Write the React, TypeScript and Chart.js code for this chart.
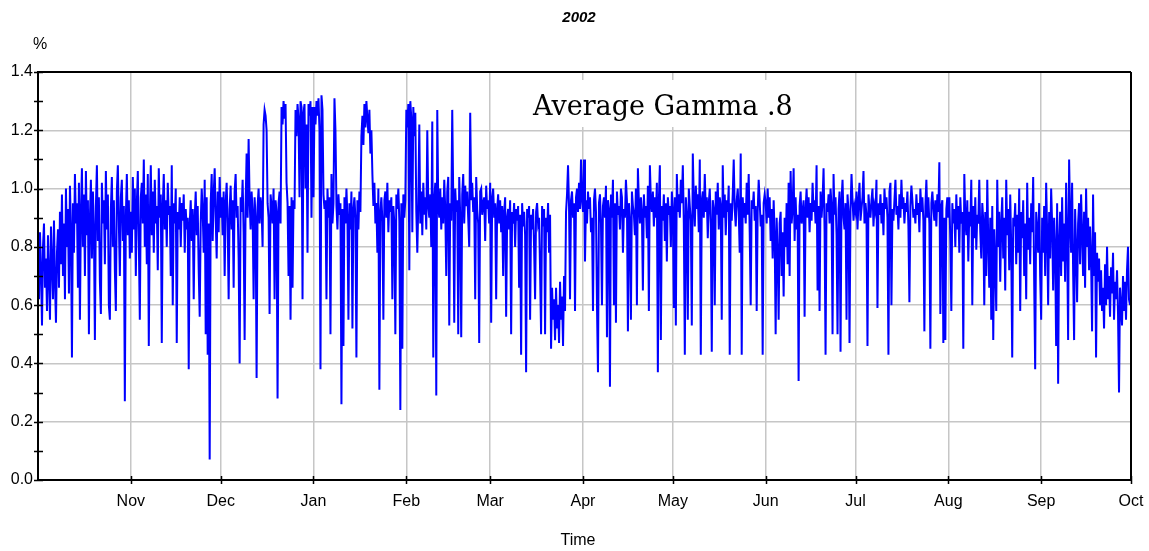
import React, { useEffect, useRef } from "react";
import { Chart, registerables } from "chart.js";

Chart.register(...registerables);

// Day offsets from 1 Oct 2001 of each month start (x axis = days)
const MONTH_STARTS = [0, 31, 61, 92, 123, 151, 182, 212, 243, 273, 304, 335];
const MONTH_TICKS = [31, 61, 92, 123, 151, 182, 212, 243, 273, 304, 335, 365];
const MONTH_LABELS = ["Nov", "Dec", "Jan", "Feb", "Mar", "Apr", "May", "Jun", "Jul", "Aug", "Sep", "Oct"];
const Y_TICKS = [0, 0.2, 0.4, 0.6, 0.8, 1.0, 1.2, 1.4];
const SAMPLES_PER_DAY = 3;

const TITLE = "2002";
const Y_UNIT = "%";
const X_TITLE = "Time";
const NOTE = "Average Gamma .8";

// Values, 3 samples per day
const oct01 = [
  0.78, 0.62, 0.85, 0.72, 0.53, 0.80, 0.88, 0.66, 0.76, 0.58, 0.84, 0.70,
  0.55, 0.87, 0.74, 0.62, 0.89, 0.68, 0.54, 0.78, 0.86, 0.66, 0.92, 0.74,
  0.98, 0.70, 0.88, 0.62, 1.00, 0.80, 0.93, 0.64, 1.01, 0.86, 0.42, 0.95,
  0.78, 1.05, 0.88, 0.95, 0.66, 1.02, 0.55, 0.92, 1.07, 0.80, 0.98, 0.70,
  1.06, 0.84, 0.96, 0.50, 0.90, 1.03, 0.76, 0.99, 0.86, 0.48, 0.94, 1.08,
  0.82, 0.97, 0.68, 0.57, 1.02, 0.88, 0.96, 0.74, 1.06, 0.86, 0.98, 0.60,
  0.55, 0.93, 1.04, 0.80, 0.96, 0.72, 0.58, 0.99, 1.08, 0.88, 0.70, 0.97,
  1.03, 0.82, 0.94, 0.27, 0.90, 1.05, 0.84, 0.96, 0.76,
];
const nov01 = [
  0.92, 0.78, 1.04, 0.86, 1.00, 0.70, 0.95, 1.06, 0.82, 0.55, 0.97, 1.02,
  0.88, 1.10, 0.80, 0.98, 0.74, 1.05, 0.46, 0.90, 1.08, 0.84, 0.99, 0.78,
  1.03, 0.88, 0.94, 0.72, 1.07, 0.90, 0.98, 0.47, 0.94, 1.05, 0.86, 0.96,
  0.80, 1.02, 0.91, 0.94, 0.70, 1.08, 0.60, 0.95, 0.88, 1.00, 0.47, 0.92,
  0.86, 0.97, 0.80, 0.95, 0.89, 0.98, 0.78, 0.93, 0.86, 0.90, 0.38, 0.88,
  0.96, 0.82, 0.93, 0.62, 0.90, 0.99, 0.84, 0.94, 0.72, 0.56, 0.88, 1.00,
  0.92, 0.78, 1.03, 0.50, 0.97, 0.43, 0.88, 0.07, 0.95, 1.05, 0.82, 0.98,
  1.07, 0.90, 0.76, 0.99, 0.85, 1.04,
];
const dec01 = [
  0.90, 0.97, 0.84, 0.99, 0.70, 0.95, 1.02, 0.88, 0.62, 0.93, 1.01, 0.86,
  0.96, 0.66, 0.99, 1.05, 0.90, 0.94, 0.76, 0.40, 0.97, 0.92, 1.03, 0.85,
  0.48, 0.95, 1.12, 0.90, 1.17, 0.96, 0.86, 0.99, 0.92, 0.62, 0.97, 0.90,
  0.35, 0.94, 1.00, 0.88, 0.97, 0.93, 0.80, 1.22, 1.27, 1.25, 1.20, 0.95,
  0.90, 0.57, 0.98, 0.94, 0.88, 1.00, 0.62, 0.96, 0.92, 0.28, 0.95, 0.99,
  0.88, 1.28, 1.22, 1.30, 1.24, 1.29, 1.02, 0.95, 0.70, 0.94, 0.55, 0.97,
  0.66, 0.96, 0.93, 1.27, 1.18, 1.29, 1.24, 0.97, 1.30, 1.28, 0.62, 1.26,
  1.29, 1.00, 1.22, 0.78, 1.29, 1.25, 1.30, 0.90, 1.28,
];
const jan02 = [
  0.97, 1.28, 1.22, 1.30, 1.25, 1.31, 1.20, 0.38, 1.32, 1.27, 0.98, 0.93,
  0.96, 0.62, 1.00, 0.90, 0.97, 0.50, 1.05, 0.88, 0.95, 1.31, 1.20, 0.94,
  0.86, 0.98, 0.91, 0.95, 0.26, 0.93, 0.46, 0.97, 0.88, 1.00, 0.90, 0.55,
  0.95, 0.86, 0.99, 0.52, 0.93, 0.97, 0.90, 0.42, 0.96, 0.86, 0.99, 0.92,
  1.18, 1.25, 1.15, 1.29, 1.21, 1.30, 1.24, 1.19, 1.27, 1.12, 1.20, 1.05,
  0.94, 1.02, 0.88, 0.95, 0.78, 1.00, 0.31, 0.92, 0.97, 0.89, 0.55, 0.96,
  0.99, 0.90, 1.02, 0.85, 0.96, 0.92, 0.97, 0.62, 0.94, 0.88, 0.50, 0.98,
  0.93, 1.00, 0.89, 0.24, 0.95, 0.45, 0.98, 0.90, 0.96,
];
const feb02 = [
  1.27, 1.21, 1.29, 0.72, 1.30, 1.24, 0.85, 1.28, 1.18, 1.26, 0.92, 0.78,
  0.95, 1.22, 0.88, 0.99, 0.84, 1.02, 0.91, 0.97, 0.86, 1.20, 0.94, 0.90,
  0.98, 0.80, 1.23, 0.42, 0.96, 1.02, 0.29, 1.27, 0.94, 0.90, 1.00, 0.86,
  0.97, 0.88, 1.03, 0.93, 0.70, 0.99, 1.04, 0.53, 0.95, 0.89, 1.27, 0.97,
  0.54, 1.00, 0.92, 0.96, 0.50, 1.04, 0.90, 0.49, 0.98, 1.05, 0.88, 1.01,
  0.94, 0.99, 0.90, 0.80, 1.26, 0.96, 1.02, 0.92, 0.97, 0.62, 1.04, 0.93,
  0.88, 0.47, 0.99, 1.00, 0.91, 0.95, 0.97, 0.82, 1.01, 0.93, 0.96, 0.88,
];
const mar02 = [
  1.02, 0.54, 0.97, 1.00, 0.90, 0.95, 0.62, 0.93, 0.98, 0.88, 0.96, 0.85,
  0.94, 0.70, 0.92, 0.97, 0.56, 0.90, 0.93, 0.86, 0.96, 0.50, 0.92, 0.88,
  0.95, 0.80, 0.93, 0.89, 0.94, 0.66, 0.91, 0.43, 0.95, 0.87, 0.92, 0.84,
  0.37, 0.93, 0.90, 0.94, 0.55, 0.91, 0.86, 0.93, 0.80, 0.62, 0.92, 0.95,
  0.88, 0.90, 0.72, 0.50, 0.94, 0.87, 0.93, 0.50, 0.90, 0.85, 0.95, 0.78,
  0.91, 0.45, 0.66, 0.55, 0.62, 0.48, 0.66, 0.52, 0.60, 0.47, 0.68, 0.55,
  0.63, 0.46, 0.70, 0.58, 0.92, 0.98, 1.08, 0.94, 0.62, 0.96, 0.99, 0.90,
  0.95, 0.58, 0.97, 1.00, 0.92, 1.02, 0.93, 1.10, 0.96,
];
const apr02 = [
  0.92, 1.10, 0.75, 0.96, 0.88, 0.99, 0.93, 0.97, 0.85, 0.90, 0.58, 0.96,
  1.00, 0.92, 0.60, 0.37, 0.95, 0.98, 0.88, 0.60, 0.94, 0.97, 0.90, 1.01,
  0.49, 0.96, 0.93, 0.32, 0.98, 0.90, 1.03, 0.60, 0.95, 0.54, 0.99, 0.91,
  0.94, 0.86, 1.00, 0.97, 0.78, 0.93, 0.90, 1.03, 0.96, 0.51, 0.95, 0.89,
  0.55, 0.99, 0.94, 0.91, 0.84, 1.00, 0.60, 1.07, 0.95, 0.88, 0.97, 0.92,
  0.65, 0.98, 0.90, 0.94, 0.83, 1.01, 0.58, 1.08, 0.96, 0.92, 0.99, 0.87,
  0.97, 0.90, 1.02, 0.37, 0.96, 1.08, 0.48, 0.94, 0.89, 0.98, 0.82, 0.95,
  0.75, 0.97, 0.91, 0.94, 0.80, 0.99,
];
const may02 = [
  0.93, 0.59, 0.97, 0.53, 1.05, 0.92, 0.98, 0.90, 1.03, 0.95, 1.08, 0.88,
  0.43, 0.97, 0.91, 0.55, 1.00, 0.94, 0.89, 0.53, 1.12, 0.96, 0.87, 1.01,
  0.93, 0.98, 0.85, 1.10, 0.43, 0.96, 0.99, 0.90, 1.05, 0.92, 0.97, 0.83,
  0.95, 1.00, 0.88, 0.44, 0.96, 0.93, 0.60, 0.99, 0.91, 1.02, 0.86, 0.97,
  0.94, 0.55, 1.08, 0.90, 0.98, 0.84, 0.96, 0.92, 1.01, 0.43, 0.95, 0.89,
  0.98, 1.10, 0.93, 0.87, 0.96, 1.00, 0.92, 0.78, 1.12, 0.43, 0.97, 0.90,
  0.95, 0.88, 1.02, 0.91, 1.05, 0.85, 0.60, 0.96, 0.93, 0.99, 0.89, 0.94,
  0.58, 0.92, 1.03, 0.96, 0.87, 0.91, 0.43, 0.95, 0.98,
];
const jun02 = [
  0.95, 0.88, 1.00, 0.90, 0.97, 0.82, 0.93, 0.76, 0.96, 0.84, 0.50, 0.90,
  0.78, 0.55, 0.88, 0.92, 0.70, 0.85, 0.63, 0.90, 0.80, 0.95, 0.74, 1.02,
  0.70, 1.06, 0.88, 0.93, 1.07, 0.82, 0.97, 0.86, 0.91, 0.34, 0.94, 0.99,
  0.88, 0.92, 0.96, 0.56, 0.93, 1.00, 0.90, 0.97, 0.85, 0.95, 0.89, 1.02,
  0.92, 0.96, 0.88, 1.08, 0.65, 0.94, 0.58, 0.99, 0.90, 0.96, 1.07, 0.86,
  0.43, 0.95, 0.92, 0.98, 0.88, 1.00, 0.94, 0.50, 1.05, 0.91, 0.97, 0.84,
  0.50, 0.93, 0.99, 0.44, 0.96, 1.03, 0.90, 0.86, 0.95, 0.55, 0.98, 0.92,
  0.47, 0.93, 1.05, 0.96, 0.89, 0.94,
];
const jul02 = [
  0.92, 0.99, 0.86, 0.96, 1.02, 0.89, 0.93, 0.97, 1.06, 0.88, 0.95, 0.91,
  0.46, 0.98, 0.93, 0.90, 0.96, 1.00, 0.87, 0.94, 0.92, 1.03, 0.59, 0.95,
  0.91, 0.98, 0.88, 0.95, 0.84, 1.00, 0.93, 0.97, 0.90, 0.43, 0.99, 1.02,
  0.60, 0.93, 0.89, 0.96, 1.03, 0.91, 0.94, 0.86, 0.98, 0.90, 1.03, 0.93,
  0.97, 0.88, 0.95, 0.92, 0.99, 0.87, 0.61, 0.94, 1.01, 0.96, 0.90, 0.93,
  0.88, 0.98, 0.91, 0.95, 0.85, 1.00, 0.92, 0.97, 0.89, 0.51, 0.94, 1.03,
  0.90, 0.97, 0.88, 0.45, 0.95, 0.99, 0.93, 0.89, 0.96, 0.87, 0.98, 0.92,
  1.09, 0.57, 0.94, 0.96, 0.47, 0.90, 0.48, 0.93, 0.97,
];
const aug02 = [
  0.90, 0.97, 0.82, 0.58, 0.95, 0.88, 0.93, 0.80, 0.98, 0.86, 0.94, 0.78,
  0.97, 0.88, 0.92, 0.45, 1.05, 0.90, 0.84, 0.96, 0.75, 0.92, 0.87, 1.03,
  0.60, 0.94, 0.83, 0.97, 0.79, 0.91, 0.88, 1.03, 0.85, 0.76, 0.95, 0.89,
  0.60, 0.92, 0.70, 1.03, 0.82, 0.66, 0.90, 0.55, 0.94, 0.48, 0.86, 0.74,
  0.58, 1.03, 0.80, 0.92, 0.68, 0.88, 0.97, 0.76, 0.90, 0.65, 1.03, 0.84,
  0.93, 0.72, 0.98, 0.80, 0.42, 0.90, 0.87, 0.95, 0.74, 0.91, 0.78, 1.00,
  0.58, 0.92, 0.83, 0.96, 0.70, 0.88, 0.62, 1.02, 0.79, 0.90, 0.74, 0.95,
  0.85, 1.04, 0.68, 0.38, 0.92, 0.86, 0.78, 0.95, 0.70,
];
const sep02 = [
  0.55, 0.90, 0.78, 0.94, 0.70, 1.02, 0.85, 0.60, 0.92, 0.76, 1.00, 0.88,
  0.65, 0.90, 0.80, 0.46, 0.95, 0.33, 0.82, 0.92, 0.70, 0.97, 0.75, 0.88,
  0.68, 1.02, 0.84, 0.48, 1.10, 0.90, 0.78, 1.02, 0.72, 0.48, 0.93, 0.80,
  0.61, 0.88, 0.95, 0.74, 0.98, 0.85, 0.70, 0.92, 0.66, 1.00, 0.80, 0.90,
  0.72, 0.87, 0.76, 0.51, 0.98, 0.70, 0.85, 0.42, 0.78, 0.68, 0.76, 0.60,
  0.72, 0.58, 0.66, 0.52, 0.74, 0.60, 0.80, 0.62, 0.70, 0.56, 0.73, 0.64,
  0.78, 0.55, 0.68, 0.62, 0.72, 0.57, 0.30, 0.66, 0.60, 0.53, 0.70, 0.58,
  0.68, 0.55, 0.72, 0.80, 0.62, 0.60,
];

const MONTH_SERIES = [oct01, nov01, dec01, jan02, feb02, mar02, apr02, may02, jun02, jul02, aug02, sep02];

const FONT = "'Liberation Sans', Arial, Helvetica, sans-serif";

function buildPoints() {
  const pts: { x: number; y: number }[] = [];
  MONTH_SERIES.forEach((arr, m) => {
    arr.forEach((v, i) => pts.push({ x: MONTH_STARTS[m] + i / SAMPLES_PER_DAY, y: v }));
  });
  return pts;
}

const framePlugin = {
  id: "framePlugin",
  beforeDatasetsDraw(chart: any) {
    const { ctx } = chart;
    ctx.save();
    ctx.fillStyle = "#ffffff";
    ctx.fillRect(527, 80, 275, 47);
    ctx.fillStyle = "#000000";
    ctx.font = "27px 'DejaVu Serif', serif";
    ctx.textAlign = "left";
    ctx.textBaseline = "alphabetic";
    ctx.fillText(NOTE, 533, 115);
    ctx.restore();
  },
  afterDraw(chart: any) {
    const { ctx, chartArea } = chart;
    const { left, right, top, bottom } = chartArea;
    const yS = chart.scales.y;
    const xS = chart.scales.x;
    ctx.save();
    ctx.strokeStyle = "#000000";
    ctx.lineWidth = 2;
    ctx.beginPath();
    ctx.moveTo(left, top);
    ctx.lineTo(right, top);
    ctx.moveTo(right, top);
    ctx.lineTo(right, bottom);
    ctx.moveTo(left, top - 1);
    ctx.lineTo(left, bottom + 1);
    ctx.moveTo(left - 1, bottom);
    ctx.lineTo(right + 1, bottom);
    ctx.stroke();
    // y ticks (major + minor) and x ticks
    ctx.lineWidth = 1.5;
    ctx.beginPath();
    for (let i = 0; i <= 14; i++) {
      const py = Math.round(yS.getPixelForValue(i / 10)) + 0.5;
      ctx.moveTo(left - 4, py);
      ctx.lineTo(left + 5, py);
    }
    MONTH_TICKS.forEach((t) => {
      const px = Math.round(xS.getPixelForValue(t)) + 0.5;
      ctx.moveTo(px, bottom - 4);
      ctx.lineTo(px, bottom + 4);
    });
    ctx.stroke();
    // texts
    ctx.fillStyle = "#000000";
    ctx.textAlign = "center";
    ctx.textBaseline = "middle";
    ctx.font = `italic bold 15px ${FONT}`;
    ctx.fillText(TITLE, 579, 18);
    ctx.font = `16px ${FONT}`;
    ctx.fillText(Y_UNIT, 40, 45);
    ctx.fillText(X_TITLE, 578, 541);
    ctx.restore();
  },
};

export default function App() {
  const canvasRef = useRef<HTMLCanvasElement | null>(null);

  useEffect(() => {
    if (!canvasRef.current) return;
    const chart = new Chart(canvasRef.current, {
      type: "line",
      data: {
        datasets: [
          {
            data: buildPoints(),
            borderColor: "#0000ff",
            borderWidth: 2,
            pointRadius: 0,
            tension: 0,
            fill: false,
          },
        ],
      },
      options: {
        animation: false,
        responsive: false,
        devicePixelRatio: 1,
        parsing: false,
        layout: { padding: { top: 72, right: 18, left: 0, bottom: 0 } },
        plugins: { legend: { display: false }, tooltip: { enabled: false }, title: { display: false } },
        scales: {
          x: {
            type: "linear",
            min: 0,
            max: 365,
            afterBuildTicks: (s: any) => {
              s.ticks = MONTH_TICKS.map((v) => ({ value: v }));
            },
            afterFit: (s: any) => {
              s.height = 71;
              s.paddingLeft = 0;
              s.paddingRight = 0;
            },
            ticks: {
              autoSkip: false,
              maxRotation: 0,
              padding: 12,
              color: "#000000",
              font: { size: 16, family: FONT },
              callback: (v: any) => {
                const i = MONTH_TICKS.indexOf(Number(v));
                return i >= 0 ? MONTH_LABELS[i] : "";
              },
            },
            grid: { color: "#c6c6c6", lineWidth: 1.5, drawTicks: false },
            border: { display: false },
          },
          y: {
            type: "linear",
            min: 0,
            max: 1.4,
            afterBuildTicks: (s: any) => {
              s.ticks = Y_TICKS.map((v) => ({ value: v }));
            },
            afterFit: (s: any) => {
              s.width = 38;
              s.paddingTop = 0;
              s.paddingBottom = 0;
            },
            ticks: {
              padding: 5,
              color: "#000000",
              font: { size: 16, family: FONT },
              callback: (v: any) => Number(v).toFixed(1),
            },
            grid: { color: "#c6c6c6", lineWidth: 1.5, drawTicks: false },
            border: { display: false },
          },
        },
      },
      plugins: [framePlugin],
    } as any);
    return () => chart.destroy();
  }, []);

  return (
    <div style={{ position: "fixed", left: 0, top: 0, width: 1149, height: 551, background: "#fff" }}>
      <canvas ref={canvasRef} width={1149} height={551} style={{ width: 1149, height: 551, display: "block" }} />
    </div>
  );
}
